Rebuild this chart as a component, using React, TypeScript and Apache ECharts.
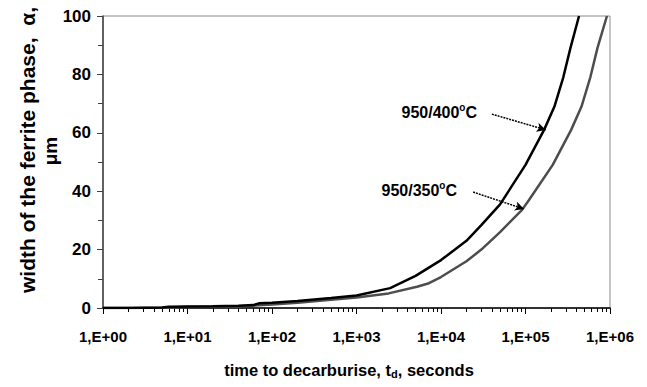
import React, { useEffect, useRef } from "react";
import * as echarts from "echarts";

// time to decarburise (s) and width of ferrite phase (µm)
const times400 = [1, 2, 5, 6, 10, 20, 40, 60, 70, 100, 200, 500, 1000, 2500, 5000, 10000, 20000, 30000, 50000, 100000, 166000, 220000, 280000, 340000, 430000];
const alpha400 = [0, 0, 0.2, 0.4, 0.5, 0.6, 0.8, 1.0, 1.6, 1.8, 2.4, 3.4, 4.3, 6.8, 11, 16.4, 23, 28.4, 35.5, 49, 61, 69, 79, 89, 100];

const times350 = [1, 5, 10, 40, 100, 200, 500, 1000, 2400, 5200, 7200, 10000, 20000, 30000, 50000, 91000, 110000, 210000, 347000, 460000, 585000, 710000, 920000];
const alpha350 = [0, 0.1, 0.3, 0.5, 1.2, 1.8, 2.8, 3.6, 5.0, 7.3, 8.5, 10.6, 16, 20, 26, 33.6, 37, 49, 61, 69, 79, 89, 100];

const majorTicks = [1, 10, 100, 1000, 10000, 100000, 1000000];
const minorMultipliers = [2, 3, 4, 5, 6, 7, 8, 9];

const seriesNames = ["950/400", "950/350"];
const arrow400 = [[40000, 66.4], [174000, 61]];
const arrow350 = [[24000, 39.7], [96000, 33.9]];

const FONT = "'Liberation Sans', Arial, Helvetica, sans-serif";

export default function App() {
  const ref = useRef<HTMLDivElement>(null);
  useEffect(() => {
    if (!ref.current) return;
    const chart = echarts.init(ref.current, null, { renderer: "svg" });
    const minorVals: number[] = [];
    majorTicks.slice(0, -1).forEach((d) => minorMultipliers.forEach((m) => minorVals.push(m * d)));
    const pairs = (xs: number[], ys: number[]) => xs.map((x, i) => [x, ys[i]]);
    const arrowLine = (a: number[][]) => ({
      silent: true,
      symbol: ["none", "arrow"],
      symbolSize: [7, 9],
      label: { show: false },
      lineStyle: { color: "#000", type: [2, 1], width: 1.5 },
      data: [[{ coord: a[0] }, { coord: a[1] }]],
    });
    const option: any = {
      animation: false,
      backgroundColor: "#fff",
      textStyle: { fontFamily: FONT },
      grid: { left: 103, top: 16, right: 37, bottom: 79, show: true, borderColor: "#8c8c8c", borderWidth: 1, containLabel: false },
      xAxis: [
        {
          type: "log",
          logBase: 10,
          min: 1,
          max: 1000000,
          splitLine: { show: false },
          axisLine: { show: true, onZero: false, lineStyle: { color: "#000", width: 1.5 } },
          axisTick: { show: true, inside: false, length: 6, customValues: majorTicks, lineStyle: { color: "#000", width: 1 } },
          axisLabel: {
            show: true,
            customValues: majorTicks,
            margin: 21,
            fontSize: 15,
            fontWeight: "bold",
            color: "#000",
            fontFamily: FONT,
            formatter: (v: number) => "1,E+" + String(Math.round(Math.log10(v))).padStart(2, "0"),
          },
        },
        {
          type: "log",
          logBase: 10,
          min: 1,
          max: 1000000,
          position: "bottom",
          splitLine: { show: false },
          axisLine: { show: false },
          axisTick: { show: true, inside: false, length: 4, customValues: minorVals, lineStyle: { color: "#000", width: 1 } },
          axisLabel: { show: false },
        },
      ],
      yAxis: {
        type: "value",
        min: 0,
        max: 100,
        interval: 20,
        splitLine: { show: false },
        axisLine: { show: true, lineStyle: { color: "#404040", width: 1.5 } },
        axisTick: { show: true, inside: false, length: 6, lineStyle: { color: "#404040" } },
        minorTick: { show: true, splitNumber: 2, length: 5, lineStyle: { color: "#404040" } },
        axisLabel: { margin: 12, fontSize: 17, fontWeight: "bold", color: "#000", fontFamily: FONT },
      },
      series: [
        {
          name: seriesNames[1],
          type: "line",
          data: pairs(times350, alpha350),
          showSymbol: false,
          symbol: "none",
          lineStyle: { color: "#4d4d4d", width: 2.5 },
          markLine: arrowLine(arrow350),
          z: 2,
        },
        {
          name: seriesNames[0],
          type: "line",
          data: pairs(times400, alpha400),
          showSymbol: false,
          symbol: "none",
          lineStyle: { color: "#000", width: 2.5 },
          markLine: arrowLine(arrow400),
          z: 3,
        },
      ],
      graphic: [
        {
          type: "text",
          x: 27,
          y: 150,
          rotation: Math.PI / 2,
          style: {
            text: "width of the ferrite phase,  α,",
            fontSize: 21,
            fontWeight: "bold",
            fontFamily: FONT,
            fill: "#000",
            textAlign: "center",
            textVerticalAlign: "middle",
          },
        },
        {
          type: "text",
          x: 50,
          y: 151,
          rotation: Math.PI / 2,
          style: {
            text: "μm",
            fontSize: 19,
            fontWeight: "bold",
            fontFamily: FONT,
            fill: "#000",
            textAlign: "center",
            textVerticalAlign: "middle",
          },
        },
        {
          type: "text",
          x: 349,
          y: 370,
          style: {
            text: "time to decarburise, t{sub|d}, seconds",
            fontSize: 16.5,
            fontWeight: "bold",
            fontFamily: FONT,
            fill: "#000",
            textAlign: "center",
            textVerticalAlign: "middle",
            rich: {
              sub: { fontSize: 11, fontWeight: "bold", fontFamily: FONT, fill: "#000", padding: [8, 0, 0, 0] },
            },
          },
        },
        {
          type: "text",
          x: 477,
          y: 112,
          style: {
            text: "950/400{sup|o}C",
            fontSize: 16,
            fontWeight: "bold",
            fontFamily: FONT,
            fill: "#000",
            textAlign: "right",
            textVerticalAlign: "middle",
            rich: {
              sup: { fontSize: 10, fontWeight: "bold", fontFamily: FONT, fill: "#000", padding: [0, 0, 9, 0] },
            },
          },
        },
        {
          type: "text",
          x: 457,
          y: 190,
          style: {
            text: "950/350{sup|o}C",
            fontSize: 16,
            fontWeight: "bold",
            fontFamily: FONT,
            fill: "#000",
            textAlign: "right",
            textVerticalAlign: "middle",
            rich: {
              sup: { fontSize: 10, fontWeight: "bold", fontFamily: FONT, fill: "#000", padding: [0, 0, 9, 0] },
            },
          },
        },
      ],
    };
    chart.setOption(option);
    return () => chart.dispose();
  }, []);
  return <div ref={ref} style={{ position: "fixed", left: 0, top: 0, width: 647, height: 387 }} />;
}
